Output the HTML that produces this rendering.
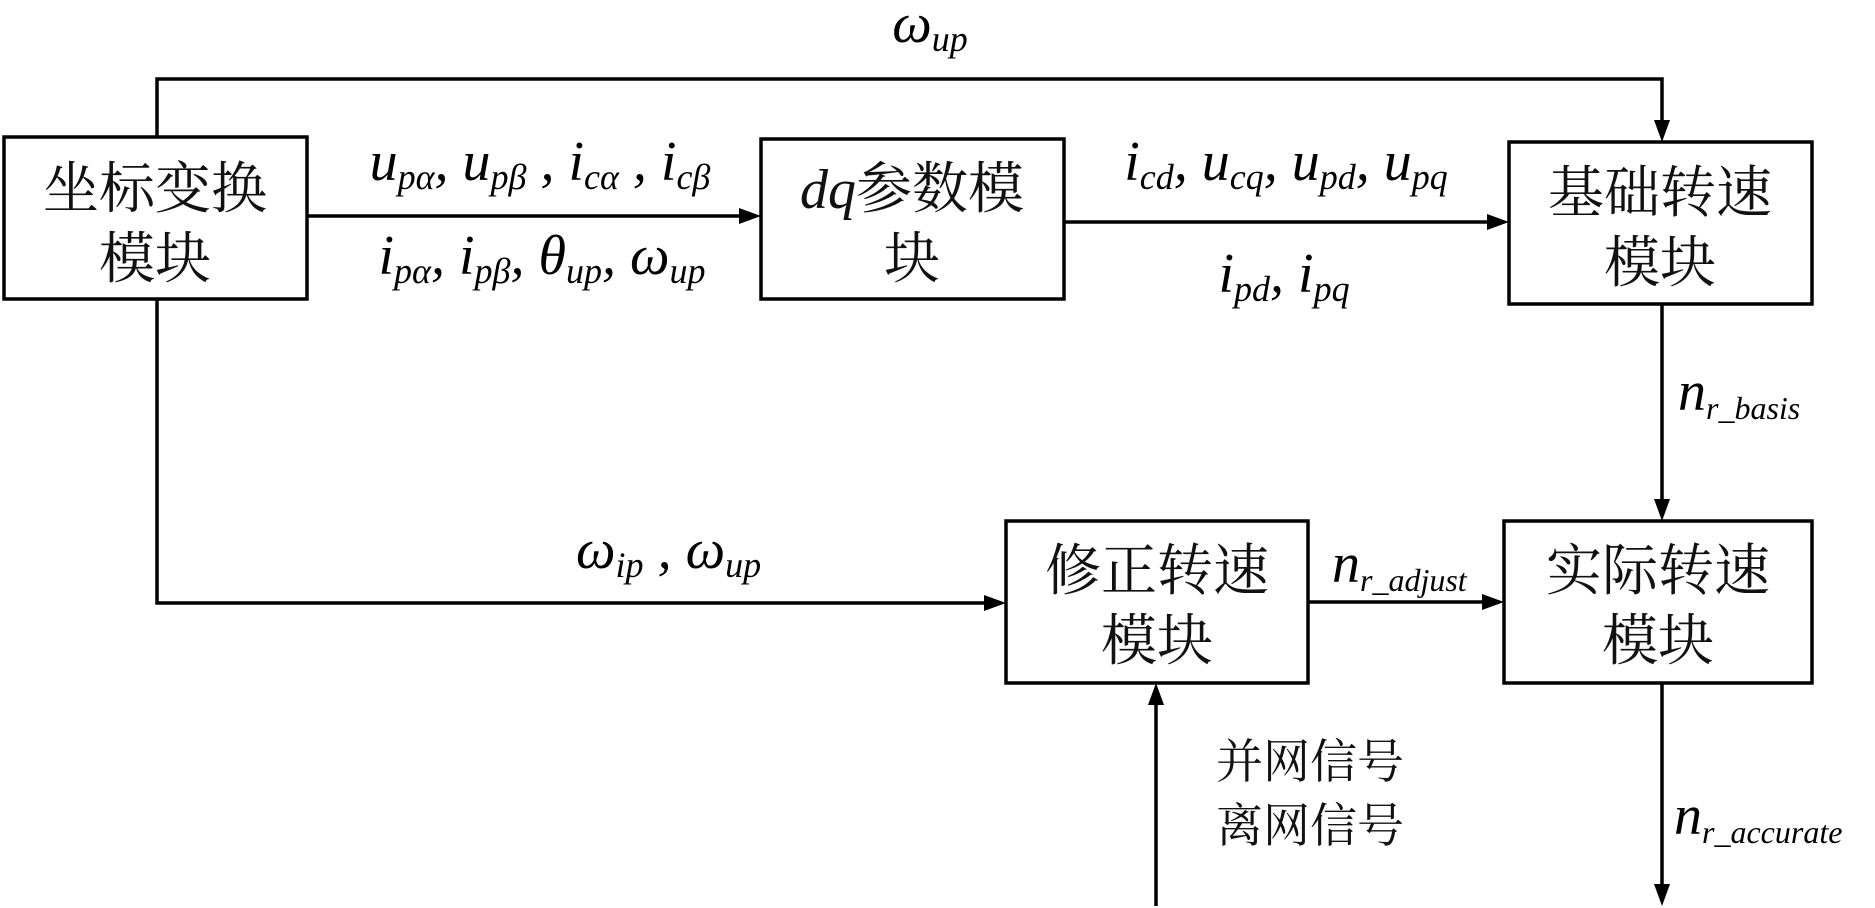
<!DOCTYPE html>
<html><head><meta charset="utf-8"><style>
html,body{margin:0;padding:0;background:#fff;}
svg{display:block;}
.m{font-family:"Liberation Serif",serif;font-style:italic;font-size:56px;fill:#000;}
.c{font-family:"Liberation Serif","Noto Serif CJK SC","Noto Sans CJK SC",serif;font-size:56px;fill:#111;}
.s{font-family:"Liberation Serif","Noto Serif CJK SC","Noto Sans CJK SC",serif;font-size:47px;fill:#111;}
</style></head><body>
<svg width="1875" height="908" viewBox="0 0 1875 908" xmlns="http://www.w3.org/2000/svg">
<g fill="none" stroke="#000" stroke-width="3.5">
<rect x="4" y="137" width="303" height="162"/>
<rect x="761" y="139" width="303" height="160"/>
<rect x="1509" y="142" width="303" height="162"/>
<rect x="1006" y="521" width="302" height="162"/>
<rect x="1504" y="521" width="308" height="162"/>
<polyline points="157,137 157,79 1662,79 1662,124"/>
<line x1="307" y1="216" x2="743" y2="216"/>
<line x1="1064" y1="222" x2="1491" y2="222"/>
<polyline points="157,299 157,603 988,603"/>
<line x1="1662" y1="304" x2="1662" y2="503"/>
<line x1="1308" y1="602" x2="1486" y2="602"/>
<line x1="1156" y1="906" x2="1156" y2="701"/>
<line x1="1662" y1="683" x2="1662" y2="888"/>
</g>
<g fill="#000">
<polygon points="1662,142 1654,120 1670,120"/>
<polygon points="761,216 739,208 739,224"/>
<polygon points="1509,222 1487,214 1487,230"/>
<polygon points="1006,603 984,595 984,611"/>
<polygon points="1662,521 1654,499 1670,499"/>
<polygon points="1504,602 1482,594 1482,610"/>
<polygon points="1156,683 1148,705 1164,705"/>
<polygon points="1662,906 1654,884 1670,884"/>
</g>
<text class="c" x="155" y="208" text-anchor="middle">坐标变换</text>
<text class="c" x="155" y="278" text-anchor="middle">模块</text>
<text class="c" x="912" y="208" text-anchor="middle"><tspan font-family="Liberation Serif" font-style="italic">dq</tspan>参数模</text>
<text class="c" x="912" y="278" text-anchor="middle">块</text>
<text class="c" x="1660" y="212" text-anchor="middle">基础转速</text>
<text class="c" x="1660" y="282" text-anchor="middle">模块</text>
<text class="c" x="1157" y="590" text-anchor="middle">修正转速</text>
<text class="c" x="1157" y="660" text-anchor="middle">模块</text>
<text class="c" x="1658" y="590" text-anchor="middle">实际转速</text>
<text class="c" x="1658" y="660" text-anchor="middle">模块</text>
<text class="s" x="1216" y="778">并网信号</text>
<text class="s" x="1216" y="842">离网信号</text>
<text class="m" x="930" y="42" text-anchor="middle">ω<tspan dy="9" font-size="36">up</tspan></text>
<text class="m" x="540" y="180" text-anchor="middle">u<tspan dy="9" font-size="36">pα</tspan><tspan dy="-9">, u</tspan><tspan dy="9" font-size="36">pβ</tspan><tspan dy="-9"> , i</tspan><tspan dy="9" font-size="36">cα</tspan><tspan dy="-9"> ,  i</tspan><tspan dy="9" font-size="36">cβ</tspan></text>
<text class="m" x="542" y="274" text-anchor="middle">i<tspan dy="9" font-size="36">pα</tspan><tspan dy="-9">, i</tspan><tspan dy="9" font-size="36">pβ</tspan><tspan dy="-9">,  θ</tspan><tspan dy="9" font-size="36">up</tspan><tspan dy="-9">,  ω</tspan><tspan dy="9" font-size="36">up</tspan></text>
<text class="m" x="1286" y="180" text-anchor="middle">i<tspan dy="9" font-size="36">cd</tspan><tspan dy="-9">, u</tspan><tspan dy="9" font-size="36">cq</tspan><tspan dy="-9">,  u</tspan><tspan dy="9" font-size="36">pd</tspan><tspan dy="-9">,  u</tspan><tspan dy="9" font-size="36">pq</tspan></text>
<text class="m" x="1284" y="292" text-anchor="middle">i<tspan dy="9" font-size="36">pd</tspan><tspan dy="-9">, i</tspan><tspan dy="9" font-size="36">pq</tspan></text>
<text class="m" x="1678" y="410">n<tspan dy="9" font-size="32">r_basis</tspan></text>
<text class="m" x="576" y="568">ω<tspan dy="9" font-size="36">ip</tspan><tspan dy="-9"> ,  ω</tspan><tspan dy="9" font-size="36">up</tspan></text>
<text class="m" x="1332" y="582">n<tspan dy="9" font-size="32">r_adjust</tspan></text>
<text class="m" x="1674" y="834">n<tspan dy="9" font-size="32">r_accurate</tspan></text>
</svg>
</body></html>
